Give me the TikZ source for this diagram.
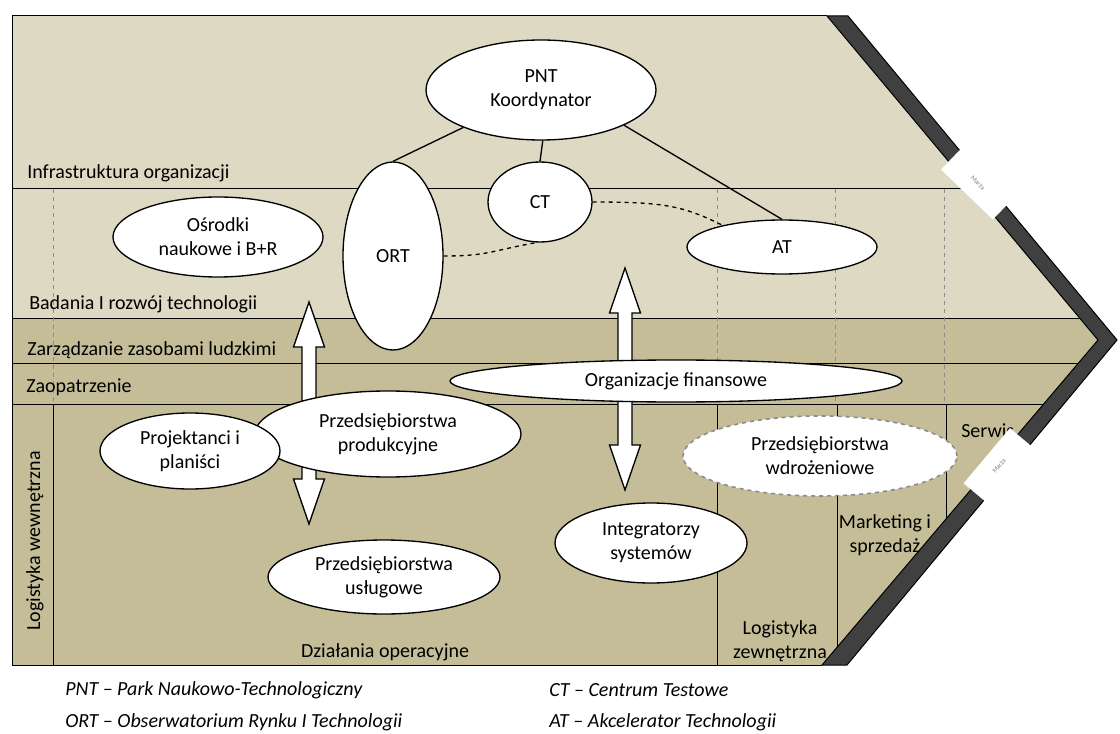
\documentclass[tikz,border=0pt]{standalone}
\usepackage{fontspec}
\setmainfont{Carlito}
\usetikzlibrary{shapes.geometric,positioning}
\definecolor{vcLight}{HTML}{DDD9C3}
\definecolor{vcDark}{HTML}{C4BD97}
\definecolor{vcBand}{HTML}{404040}
\definecolor{vcGrey}{HTML}{8C8C8C}
\newcommand\vcfont{\fontsize{15}{18}\selectfont}
\tikzset{
  ell/.style={ellipse, draw=black, fill=white, line width=1pt, inner sep=0pt, align=center, font=\vcfont},
  ellD/.style={ell, draw=vcGrey, dashed, line width=1.2pt},
  lbl/.style={inner sep=0pt, font=\vcfont, align=center},
  sep/.style={draw=black, line width=0.75pt},
  grid/.style={draw=vcGrey, dashed, line width=0.75pt},
  link/.style={draw=black, line width=1pt},
  dlink/.style={link, dashed},
  legend/.style={inner sep=0pt, anchor=west, font=\vcfont\itshape},
  marza/.style={fill=white, inner sep=0pt, minimum width=54pt, minimum height=24pt, font=\tiny\color{gray}},
}
% block arrow: x, top tip y, bottom tip y
\newcommand\blockarr[3]{%
  \draw[link, fill=white] (#1,#2) -- (#1+15.5,#2+45) -- (#1+7,#2+45) -- (#1+7,#3-45)
    -- (#1+15.5,#3-45) -- (#1,#3) -- (#1-15.5,#3-45) -- (#1-7,#3-45)
    -- (#1-7,#2+45) -- (#1-15.5,#2+45) -- cycle;}

\begin{document}
\begin{tikzpicture}[x=0.75pt, y=-0.75pt]
  \useasboundingbox (0,0) rectangle (1120,734);

  % value chain body
  \begin{scope}
    \clip (12,16) -- (827,16) -- (1098,340) -- (822,665) -- (12,665) -- cycle;
    \fill[vcDark] (0,0) rectangle (1120,734);
    \fill[vcLight] (0,16) rectangle (1120,318);
    \foreach \y in {189,318,363,404} \draw[sep] (12,\y) -- (1120,\y);
    \foreach \x in {53,717,835,944} \draw[grid] (\x,189) -- (\x,404);
    \foreach \x in {53,717,837,946} \draw[sep] (\x,404) -- (\x,665);
  \end{scope}
  \draw[sep] (822,665) -- (12,665) -- (12,16) -- (827,16);
  \filldraw[fill=vcBand, draw=black, line width=0.75pt]
    (827,16) -- (848,16) -- (1117,340) -- (847,665) -- (822,665) -- (1098,340) -- cycle;

  % flows
  \blockarr{309}{302}{524}
  \blockarr{625}{268}{490}

  % actors
  \node[ell, minimum width=172.5pt, minimum height=75pt] (pnt) at (541,90) {PNT\\Koordynator};
  \node[ell, minimum width=75pt, minimum height=141pt] (ort) at (393,256) {ORT};
  \node[ell, minimum width=78pt, minimum height=60pt] (ct) at (540,202) {CT};
  \node[ell, minimum width=142.5pt, minimum height=40.5pt] (at) at (782,247) {AT};
  \node[ell, minimum width=157.5pt, minimum height=60pt] (osr) at (218,237) {Ośrodki\\naukowe i B+R};
  \node[ell, minimum width=339pt, minimum height=31.5pt] (fin) at (676,381) {Organizacje finansowe};
  \node[ell, minimum width=199.5pt, minimum height=64.5pt] (prod) at (388,434) {Przedsiębiorstwa\\produkcyjne};
  \node[ell, minimum width=135pt, minimum height=57pt] (proj) at (190,451) {Projektanci i\\planiści};
  \node[ell, minimum width=174pt, minimum height=55.5pt] (usl) at (384,577) {Przedsiębiorstwa\\usługowe};
  \node[ell, minimum width=144pt, minimum height=60pt] (integ) at (651,543) {Integratorzy\\systemów};
  \node[ellD, minimum width=205.5pt, minimum height=60pt] (wdr) at (820,456) {Przedsiębiorstwa\\wdrożeniowe};

  \draw[link] (pnt) -- (ort.north);
  \draw[link] (pnt.-88) -- (ct.north);
  \draw[link] (pnt.-23) -- (at.north);
  \draw[dlink] (ort.east) .. controls +(45,0) and +(-45,8) .. (ct.-95);
  \draw[dlink] (ct.east) .. controls +(70,0) and +(-40,-20) .. (at.160);

  % activity labels
  \node[lbl, anchor=west] (infra) at (27,173) {Infrastruktura organizacji};
  \node[lbl, anchor=west] (bad) at (29,304) {Badania I rozwój technologii};
  \node[lbl, anchor=west] (zarz) at (27,350) {Zarządzanie zasobami ludzkimi};
  \node[lbl, anchor=west] (zaop) at (26,387) {Zaopatrzenie};
  \node[lbl, rotate=90] (logw) at (35,541) {Logistyka wewnętrzna};
  \node[lbl] (dzial) at (385,652) {Działania operacyjne};
  \node[lbl] (logz) at (780,641) {Logistyka\\zewnętrzna};
  \node[lbl] (mark) at (885,535) {Marketing i\\sprzedaż};
  \node[lbl, anchor=west] (serw) at (961,431) {Serwis};

  % margin tags
  \node[marza, rotate=-44] (m1) at (978,183) {Marża};
  \node[marza, rotate=50] (m2) at (999,466) {Marża};

  % legend
  \node[legend] (lpnt) at (65,690) {PNT – Park Naukowo-Technologiczny};
  \node[legend] (lort) at (65,722) {ORT – Obserwatorium Rynku I Technologii};
  \node[legend] (lct) at (549,690) {CT – Centrum Testowe};
  \node[legend] (lat) at (549,722) {AT – Akcelerator Technologii};
\end{tikzpicture}
\end{document}
